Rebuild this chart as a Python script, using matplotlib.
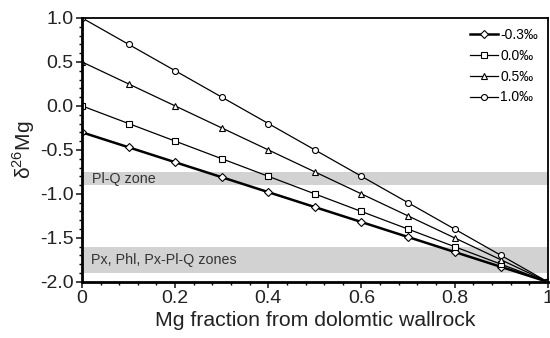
import numpy as np
import matplotlib.pyplot as plt
from matplotlib.ticker import MultipleLocator

plt.rcParams['font.family'] = ['Liberation Sans', 'DejaVu Sans']

# Mg fraction from wallrock
frac = [0, 0.1, 0.2, 0.3, 0.4, 0.5, 0.6, 0.7, 0.8, 0.9, 1.0]

# d26Mg of the mixture for each starting value
s_m03 = [-0.30, -0.47, -0.64, -0.81, -0.98, -1.15, -1.32, -1.49, -1.66, -1.83, -2.0]
s_00 = [0.0, -0.2, -0.4, -0.6, -0.8, -1.0, -1.2, -1.4, -1.6, -1.8, -2.0]
s_05 = [0.5, 0.25, 0.0, -0.25, -0.5, -0.75, -1.0, -1.25, -1.5, -1.75, -2.0]
s_10 = [1.0, 0.7, 0.4, 0.1, -0.2, -0.5, -0.8, -1.1, -1.4, -1.7, -2.0]

labels = ['-0.3‰', '0.0‰', '0.5‰', '1.0‰']

# zone bands (lower, upper)
plq_zone = (-0.90, -0.75)
px_zone = (-1.90, -1.60)

fig = plt.figure(figsize=(5.5, 3.38), dpi=100)
ax = fig.add_axes([0.149, 0.166, 0.847, 0.781])

ax.axhspan(*plq_zone, color='#d2d2d2', lw=0, zorder=0)
ax.axhspan(*px_zone, color='#d2d2d2', lw=0, zorder=0)
ax.text(0.022, -0.825, 'Pl-Q zone', fontsize=10.3, color='#333333', va='center')
ax.text(0.02, -1.75, 'Px, Phl, Px-Pl-Q zones', fontsize=10.3, color='#333333', va='center')

mk = dict(mfc='white', mec='black', color='black', ms=4.3, mew=0.8)
ax.plot(frac, s_m03, marker='D', lw=1.8, label=labels[0], **dict(mk, ms=3.6))
ax.plot(frac, s_00, marker='s', lw=0.9, label=labels[1], **mk)
ax.plot(frac, s_05, marker='^', lw=0.9, label=labels[2], **mk)
ax.plot(frac, s_10, marker='o', lw=0.9, label=labels[3], **mk)

ax.set_xlim(0, 1)
ax.set_ylim(-2.0, 1.0)
ax.xaxis.set_major_locator(MultipleLocator(0.2))
ax.xaxis.set_minor_locator(MultipleLocator(0.04))
ax.yaxis.set_major_locator(MultipleLocator(0.5))
ax.yaxis.set_minor_locator(MultipleLocator(0.1))
ax.set_xticks([0, 0.2, 0.4, 0.6, 0.8, 1.0])
ax.set_xticklabels(['0', '0.2', '0.4', '0.6', '0.8', '1'])
ax.set_yticklabels(['%.1f' % v for v in ax.get_yticks()])
ax.tick_params(which='major', length=4, width=1.2, labelsize=14, colors='#222222', pad=2)
ax.tick_params(which='minor', length=2.5, width=1)
ax.tick_params(axis='x', which='both', top=False)
for s in ax.spines.values():
    s.set_linewidth(1.3)
ax.spines['left'].set_linewidth(2)
ax.spines['bottom'].set_linewidth(2)

ax.set_xlabel('Mg fraction from dolomtic wallrock', fontsize=15.3, color='#222222', labelpad=3)
ax.set_ylabel('δ$^{\\mathregular{26}}$Mg', fontsize=15, color='#222222', labelpad=2)

ax.legend(loc='upper right', frameon=False, fontsize=10, handlelength=2.0,
          handletextpad=0.2, labelspacing=0.5, borderaxespad=0.3)

fig.savefig('out.png', dpi=100)
